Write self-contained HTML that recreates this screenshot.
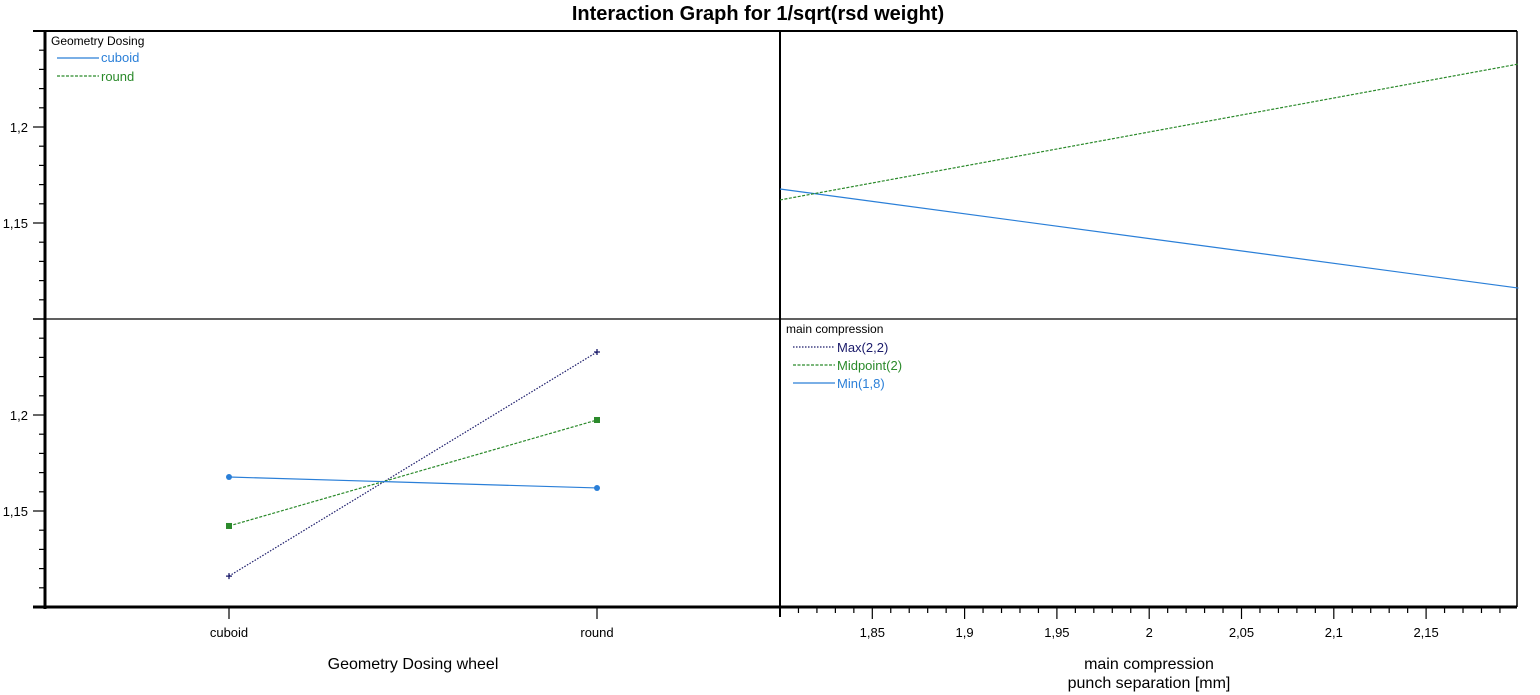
<!DOCTYPE html>
<html><head><meta charset="utf-8"><style>
body{margin:0;background:#fff;}
svg{display:block;font-family:"Liberation Sans",Arial,sans-serif;}
</style></head><body>
<svg id="c" width="1540" height="695"></svg>
<script>
const levels=['cuboid','round'];
const maxVals=[1.1161,1.2328];
const midVals=[1.1422,1.1974];
const minVals=[1.1677,1.1620];
const compX=[1.8,2.2];
const cuboidVals=[1.1677,1.1161];
const roundVals=[1.1620,1.2328];
const yTicks=[1.15,1.2];
const yTickLabels=['1,15','1,2'];
const xTicks=[1.85,1.9,1.95,2,2.05,2.1,2.15];
const xTickLabels=['1,85','1,9','1,95','2','2,05','2,1','2,15'];

const svg=document.getElementById('c');
const NS='http://www.w3.org/2000/svg';
function mk(t,a,txt){const e=document.createElementNS(NS,t);for(const k in a)e.setAttribute(k,a[k]);if(txt!==undefined)e.textContent=txt;svg.appendChild(e);return e;}
const L=45,R=1517,T=31,M=319,B=607,VX=780;
const yTop=v=>M-(v-1.1)*1920;
const yBot=v=>B-(v-1.1)*1920;
const xCat=i=>229+i*368;
const xNum=v=>VX+(v-1.8)*1846;

let e;
e=mk('text',{x:758,y:20,'text-anchor':'middle','font-size':20,'font-weight':'bold'},'Interaction Graph for 1/sqrt(rsd weight)');

mk('line',{x1:33,y1:T,x2:R,y2:T,stroke:'#000','stroke-width':2});
mk('line',{x1:R,y1:T,x2:R,y2:B,stroke:'#000','stroke-width':1.5});
mk('line',{x1:33,y1:M,x2:R,y2:M,stroke:'#000','stroke-width':1.3});
mk('line',{x1:VX,y1:T,x2:VX,y2:B+10,stroke:'#000','stroke-width':2});
mk('line',{x1:L,y1:T,x2:L,y2:B+2,stroke:'#000','stroke-width':3});
mk('line',{x1:33,y1:B,x2:R,y2:B,stroke:'#000','stroke-width':3});
for(let k=0;k<=15;k++){const v=1.1+k*0.01;
 [yTop,yBot].forEach(f=>{const y=f(v);const major=Math.abs(v-1.15)<1e-6||Math.abs(v-1.2)<1e-6||k===0||k===15;
  mk('line',{x1:major?33:39,y1:y,x2:L,y2:y,stroke:'#000','stroke-width':1.2});});}
yTicks.forEach((v,i)=>{[yTop,yBot].forEach(f=>{e=mk('text',{x:28,y:f(v)+5,'text-anchor':'end','font-size':13},yTickLabels[i]);
 });});
levels.forEach((l,i)=>{mk('line',{x1:xCat(i),y1:B,x2:xCat(i),y2:B+12,stroke:'#000','stroke-width':1.2});
 e=mk('text',{x:xCat(i),y:637,'text-anchor':'middle','font-size':13},l);
 });
for(let k=1;k<40;k++){const v=1.8+k*0.01;const x=xNum(v);const major=k%5===0;
 mk('line',{x1:x,y1:B,x2:x,y2:B+(major?12:6),stroke:'#000','stroke-width':1.2});}
xTicks.forEach((v,i)=>{e=mk('text',{x:xNum(v),y:637,'text-anchor':'middle','font-size':13},xTickLabels[i]);
 });
e=mk('text',{x:413,y:669,'text-anchor':'middle','font-size':16},'Geometry Dosing wheel');

e=mk('text',{x:1149,y:669,'text-anchor':'middle','font-size':16},'main compression');

e=mk('text',{x:1149,y:688,'text-anchor':'middle','font-size':16},'punch separation [mm]');


function line(x1,y1,x2,y2,col,dash,name){e=mk('line',{x1,y1,x2,y2,stroke:col,'stroke-width':1.2,'stroke-dasharray':dash});
 }
line(xNum(compX[0]),yTop(cuboidVals[0]),xNum(compX[1]),yTop(cuboidVals[1]),'#2a7fd8','none','cuboid-line');
line(xNum(compX[0]),yTop(roundVals[0]),xNum(compX[1]),yTop(roundVals[1]),'#2b8a2b','3,1.5','round-line');
line(xCat(0),yBot(maxVals[0]),xCat(1),yBot(maxVals[1]),'#1a1a6a','1.5,1.5','max-line');
line(xCat(0),yBot(midVals[0]),xCat(1),yBot(midVals[1]),'#2b8a2b','3,1.5','midpoint-line');
line(xCat(0),yBot(minVals[0]),xCat(1),yBot(minVals[1]),'#2a7fd8','none','min-line');
levels.forEach((l,i)=>{
 let x=xCat(i),y=yBot(maxVals[i]);
 e=mk('path',{d:`M${x-3} ${y}H${x+3}M${x} ${y-3}V${y+3}`,stroke:'#1a1a6a','stroke-width':1.3});
 
 y=yBot(midVals[i]);
 e=mk('rect',{x:x-3,y:y-3,width:6,height:6,fill:'#2b8a2b'});
 
 y=yBot(minVals[i]);
 e=mk('circle',{cx:x,cy:y,r:3,fill:'#2a7fd8'});
 
});
e=mk('text',{x:51,y:45,'font-size':12},'Geometry Dosing');
mk('line',{x1:57,y1:58,x2:99,y2:58,stroke:'#2a7fd8','stroke-width':1.2});
e=mk('text',{x:101,y:62,'font-size':13,fill:'#2a7fd8'},'cuboid');
mk('line',{x1:57,y1:76,x2:99,y2:76,stroke:'#2b8a2b','stroke-width':1.2,'stroke-dasharray':'3,1.5'});
e=mk('text',{x:101,y:81,'font-size':13,fill:'#2b8a2b'},'round');
e=mk('text',{x:786,y:333,'font-size':12},'main compression');
const lg=[['Max(2,2)','#1a1a6a','1.5,1.5',347],['Midpoint(2)','#2b8a2b','3,1.5',365],['Min(1,8)','#2a7fd8','none',383]];
lg.forEach(r=>{mk('line',{x1:793,y1:r[3],x2:835,y2:r[3],stroke:r[1],'stroke-width':1.2,'stroke-dasharray':r[2]});
 e=mk('text',{x:837,y:r[3]+5,'font-size':13,fill:r[1]},r[0]);});
</script>
</body></html>
